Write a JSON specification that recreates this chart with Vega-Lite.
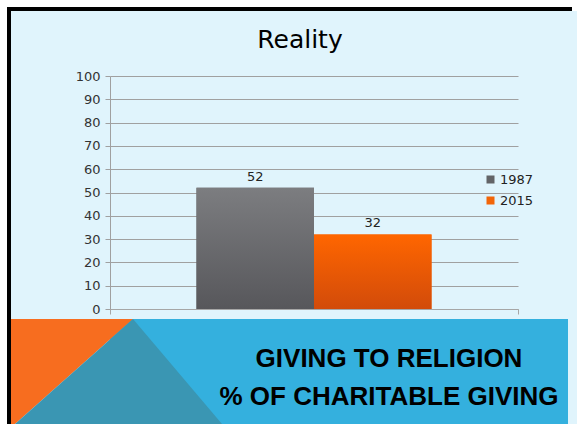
{
  "$schema": "https://vega.github.io/schema/vega-lite/v6.json",
  "background": "#E0F4FC",
  "padding": 0,
  "spacing": 0,
  "config": {
    "view": {"stroke": null},
    "concat": {"spacing": 0}
  },
  "vconcat": [
    {"data": {"values": [{"s": 1}]}, "mark": {"type": "rect", "color": "white"}, "width": 577, "height": 7},
    {
      "spacing": 0,
      "hconcat": [
        {"data": {"values": [{"s": 1}]}, "mark": {"type": "rect", "color": "white"}, "width": 7, "height": 4},
        {"data": {"values": [{"s": 1}]}, "mark": {"type": "rect", "color": "black"}, "width": 565, "height": 4},
        {"data": {"values": [{"s": 1}]}, "mark": {"type": "rect", "color": "white"}, "width": 5, "height": 4}
      ]
    },
    {
      "spacing": 0,
      "hconcat": [
        {"data": {"values": [{"s": 1}]}, "mark": {"type": "rect", "color": "white"}, "width": 7, "height": 413},
        {"data": {"values": [{"s": 1}]}, "mark": {"type": "rect", "color": "black"}, "width": 4, "height": 413},
        {
          "spacing": 0,
          "vconcat": [
            {"data": {"values": [{"s": 1}]}, "mark": {"type": "rect", "opacity": 0}, "width": 557, "height": 17},
            {
              "data": {"values": [
                {"cat": "Giving", "year": "1987", "value": 52},
                {"cat": "Giving", "year": "2015", "value": 32}
              ]},
              "width": 408,
              "height": 233,
              "title": {"text": "Reality", "font": "DejaVu Sans", "fontSize": 25, "fontWeight": "normal", "color": "black", "anchor": "middle", "frame": "group", "offset": 17, "dx": -14},
              "encoding": {
                "x": {"field": "cat", "type": "nominal", "scale": {"paddingInner": 0, "paddingOuter": 0},
                  "axis": {"labels": false, "title": null, "ticks": true, "tickBand": "extent", "tickSize": 5, "domainColor": "#A6A6A6", "tickColor": "#A6A6A6", "minExtent": 10, "maxExtent": 10}},
                "xOffset": {"field": "year", "type": "nominal", "scale": {"paddingInner": 0, "paddingOuter": 0.736}},
                "y": {"field": "value", "type": "quantitative", "scale": {"domain": [0, 100], "nice": false},
                  "axis": {"values": [0, 10, 20, 30, 40, 50, 60, 70, 80, 90, 100], "title": null, "tickSize": 5, "labelFont": "DejaVu Sans", "labelFontSize": 13, "labelColor": "#333333", "labelPadding": 5, "gridColor": "#A0A0A0", "domainColor": "#A0A0A0", "tickColor": "#A0A0A0", "minExtent": 99, "maxExtent": 99}}
              },
              "layer": [
                {
                  "mark": {"type": "bar"},
                  "encoding": {
                    "color": {"field": "year", "type": "nominal",
                      "scale": {"domain": ["1987", "2015"], "range": ["#636467", "#F26508"]},
                      "legend": {"orient": "none", "legendX": 484, "legendY": 173, "title": null, "symbolType": "square", "symbolSize": 64, "symbolStrokeWidth": 0, "labelFont": "DejaVu Sans", "labelFontSize": 13, "labelColor": "#222222", "rowPadding": 7, "padding": 0, "labelOffset": 3}
                    }
                  }
                },
                {
                  "transform": [{"filter": "datum.year === '1987'"}],
                  "mark": {"type": "bar", "color": {"gradient": "linear", "x1": 0, "y1": 0, "x2": 0, "y2": 1, "stops": [{"offset": 0, "color": "#7C7D80"}, {"offset": 1, "color": "#57575B"}]}}
                },
                {
                  "transform": [{"filter": "datum.year === '2015'"}],
                  "mark": {"type": "bar", "color": {"gradient": "linear", "x1": 0, "y1": 0, "x2": 0, "y2": 1, "stops": [{"offset": 0, "color": "#FF6600"}, {"offset": 1, "color": "#D24B0A"}]}}
                },
                {
                  "mark": {"type": "text", "baseline": "bottom", "dy": -4, "font": "DejaVu Sans", "fontSize": 13, "color": "#222222"},
                  "encoding": {"text": {"field": "value", "type": "quantitative"}}
                }
              ]
            },
            {
              "width": 458,
              "height": 105,
              "view": {"fill": "#34B0DE"},
              "data": {"values": [
                {"shape": "orange", "x": 0, "y0": 0, "y1": 105},
                {"shape": "orange", "x": 4, "y0": 0, "y1": 105},
                {"shape": "orange", "x": 122, "y0": 105, "y1": 105},
                {"shape": "teal", "x": 4, "y0": 0, "y1": 0},
                {"shape": "teal", "x": 122, "y0": 0, "y1": 105},
                {"shape": "teal", "x": 211, "y0": 0, "y1": 0},
                {"shape": "text", "label": "GIVING TO RELIGION", "x": 378, "y0": 57},
                {"shape": "text", "label": "% OF CHARITABLE GIVING", "x": 378, "y0": 19}
              ]},
              "encoding": {
                "x": {"field": "x", "type": "quantitative", "scale": {"domain": [99, 557], "nice": false, "zero": false}, "axis": null},
                "y": {"field": "y0", "type": "quantitative", "scale": {"domain": [0, 105], "nice": false}, "axis": null}
              },
              "layer": [
                {
                  "transform": [{"filter": "datum.shape === 'orange'"}],
                  "mark": {"type": "area", "interpolate": "linear", "color": "#F76D1F"},
                  "encoding": {"y2": {"field": "y1"}}
                },
                {
                  "transform": [{"filter": "datum.shape === 'teal'"}],
                  "mark": {"type": "area", "interpolate": "linear", "color": "#3A96B3"},
                  "encoding": {"y2": {"field": "y1"}}
                },
                {
                  "transform": [{"filter": "datum.shape === 'text'"}],
                  "mark": {"type": "text", "align": "center", "baseline": "alphabetic", "font": "Liberation Sans", "fontSize": 26, "fontWeight": "bold", "color": "black"},
                  "encoding": {"text": {"field": "label"}}
                }
              ]
            }
          ]
        },
        {"data": {"values": [{"s": 1}]}, "mark": {"type": "rect", "color": "black"}, "width": 4, "height": 413},
        {"data": {"values": [{"s": 1}]}, "mark": {"type": "rect", "color": "white"}, "width": 5, "height": 413}
      ]
    }
  ]
}
